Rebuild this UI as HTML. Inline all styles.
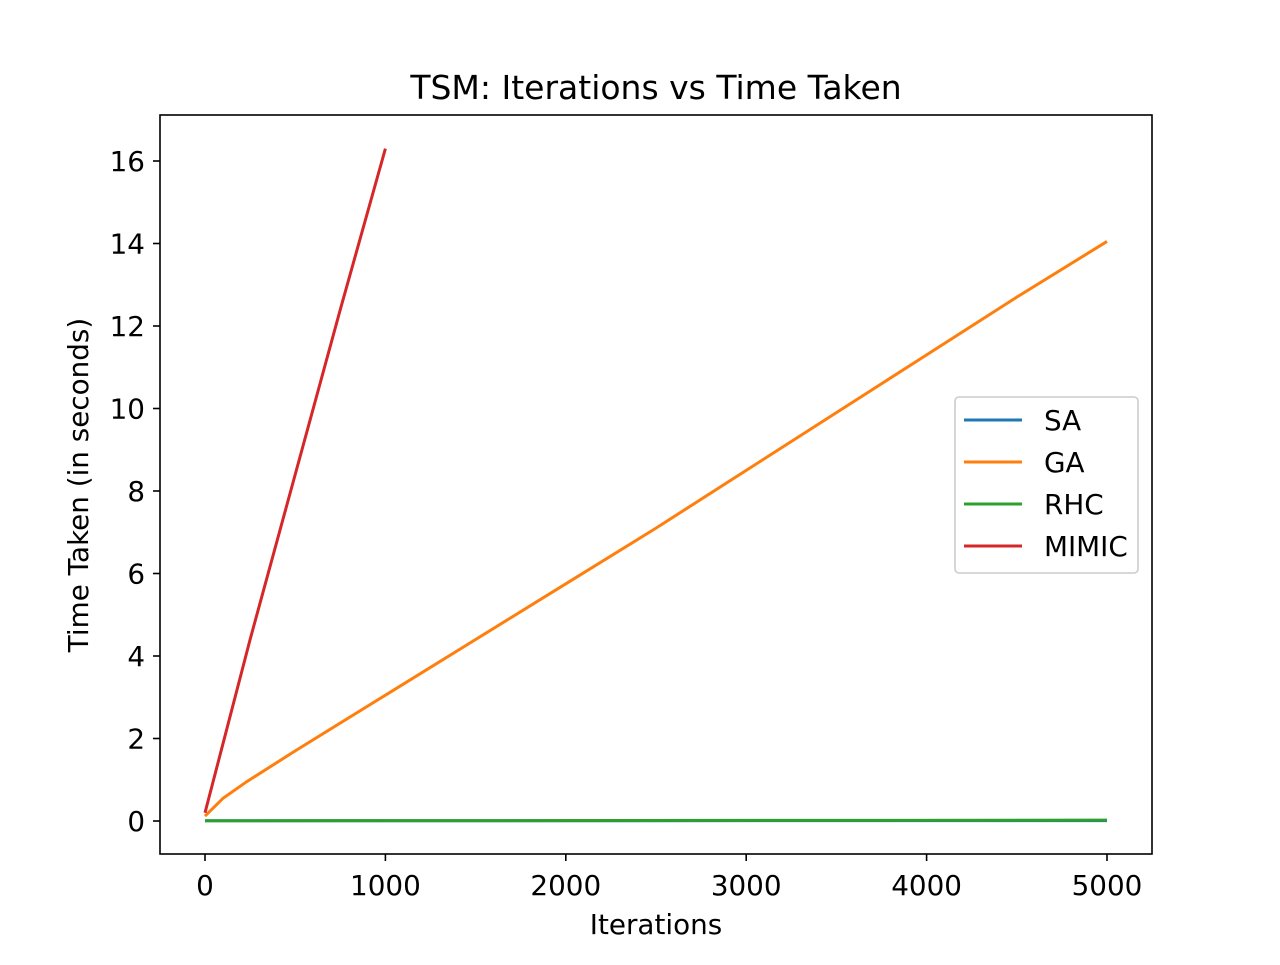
<!DOCTYPE html>
<html><head><meta charset="utf-8"><style>
body{margin:0;background:#fff}
svg text{font-family:"DejaVu Sans","Liberation Sans",sans-serif;fill:#000}
</style></head><body>
<svg width="1280" height="960" id="svg">
<rect width="1280" height="960" fill="#fff"/>
<text x="656" y="99" font-size="33" text-anchor="middle">TSM: Iterations vs Time Taken</text>
<text x="656" y="934" font-size="27.8" text-anchor="middle">Iterations</text>
<text transform="translate(88,485) rotate(-90)" font-size="27.8" text-anchor="middle">Time Taken (in seconds)</text>
<g id="ticks"></g>
<g id="lines"></g>
<rect x="160" y="115" width="992" height="739" fill="none" stroke="#000" stroke-width="1.6"/>
<g>
<rect x="955" y="397" width="183" height="176" rx="4" fill="#fff" fill-opacity="0.8" stroke="#ccc" stroke-width="1.6"/>
<g id="legend"></g>
</g>
</svg>
<script>
const xTicks=[0,1000,2000,3000,4000,5000];
const yTicks=[0,2,4,6,8,10,12,14,16];
const names=["SA","GA","RHC","MIMIC"];
const colors=["#1f77b4","#ff7f0e","#2ca02c","#d62728"];
const saX=[0,5000], saY=[0.005,0.01];
const gaX=[0,100,230,500,1000,1500,2000,2500,3000,3500,4000,4500,5000];
const gaY=[0.12,0.55,0.95,1.7,3.05,4.4,5.75,7.1,8.5,9.9,11.3,12.7,14.05];
const rhcX=[0,5000], rhcY=[0.005,0.02];
const miX=[0,250,500,750,1000];
const miY=[0.2,4.4,8.4,12.4,16.3];
const series=[[saX,saY],[gaX,gaY],[rhcX,rhcY],[miX,miY]];
const X=v=>205+v*(1107-205)/5000;
const Y=v=>821-v*(821-161)/16;
const NS="http://www.w3.org/2000/svg";
function mk(t,a,p){const e=document.createElementNS(NS,t);for(const k in a)e.setAttribute(k,a[k]);p.appendChild(e);return e;}
const tg=document.getElementById('ticks');
xTicks.forEach(v=>{
 const l=mk('line',{x1:X(v),x2:X(v),y1:854,y2:861,stroke:'#000','stroke-width':1.6},tg);
 
 
 const t=mk('text',{x:X(v),y:895,'font-size':27.8,'text-anchor':'middle'},tg);t.textContent=v;
 
 
});
yTicks.forEach(v=>{
 const l=mk('line',{x1:153,x2:160,y1:Y(v),y2:Y(v),stroke:'#000','stroke-width':1.6},tg);
 
 
 const t=mk('text',{x:145,y:Y(v)+10,'font-size':27.8,'text-anchor':'end'},tg);t.textContent=v;
 
 
});
const lg=document.getElementById('lines');
series.forEach((s,i)=>{
 const pts=s[0].map((x,j)=>X(x)+','+Y(s[1][j])).join(' ');
 const p=mk('polyline',{points:pts,fill:'none',stroke:colors[i],'stroke-width':3},lg);
 
 
});
const leg=document.getElementById('legend');
names.forEach((n,i)=>{
 const y=420+i*42;
 const l=mk('line',{x1:964,x2:1022,y1:y,y2:y,stroke:colors[i],'stroke-width':3},leg);
 
 
 const t=mk('text',{x:1044,y:y+10,'font-size':27.8},leg);t.textContent=n;
 
 
});
</script>
</body></html>
